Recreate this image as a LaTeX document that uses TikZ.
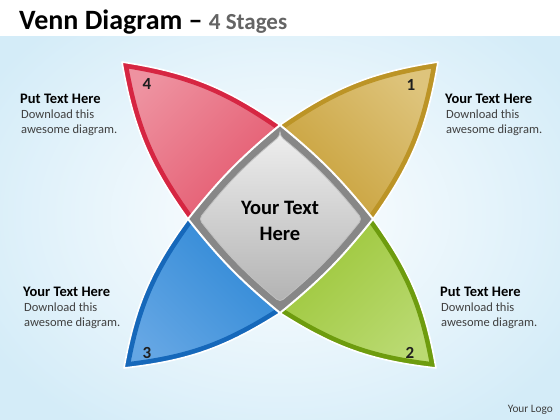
\documentclass[tikz,border=0pt]{standalone}
\usepackage{fontspec}
\setmainfont{Carlito}
\begin{document}
\begin{tikzpicture}[x=1pt,y=1pt,
  petalline/.style={draw=white, line width=1.6pt, line join=round},
  numlabel/.style={font=\fontsize{17}{18}\selectfont\bfseries, text=black!88},
  headtext/.style={anchor=base west, inner sep=0pt, font=\fontsize{14.5}{16}\selectfont\bfseries, text=black},
  bodytext/.style={anchor=base west, inner sep=0pt, font=\fontsize{12.5}{14}\selectfont, text=black!75},
  centertext/.style={anchor=base, inner sep=0pt, font=\fontsize{20.5}{24}\selectfont\bfseries, text=black}]
\definecolor{bgblue}{RGB}{212,236,248}
\definecolor{redD}{RGB}{214,38,66}
\definecolor{redM}{RGB}{228,88,110}
\definecolor{redL}{RGB}{238,146,160}
\definecolor{goldD}{RGB}{188,148,38}
\definecolor{goldM}{RGB}{200,160,56}
\definecolor{goldL}{RGB}{222,196,124}
\definecolor{blueD}{RGB}{22,104,186}
\definecolor{blueM}{RGB}{46,136,214}
\definecolor{blueL}{RGB}{100,166,228}
\definecolor{greenD}{RGB}{110,156,14}
\definecolor{greenM}{RGB}{156,198,56}
\definecolor{greenL}{RGB}{186,218,114}
\definecolor{titlegray}{RGB}{100,100,100}
\useasboundingbox (0,0) rectangle (560,-420);
\fill[white] (0,0) rectangle (560,-420);
\begin{scope}
  \clip (0,-37) rectangle (560,-420);
  \shade[inner color=white, outer color=bgblue] (-60,40) rectangle (620,-470);
\end{scope}
% key points
\coordinate (C) at (280,-219);
\coordinate (DT) at (280,-125);
\coordinate (DR) at (373,-219);
\coordinate (DB) at (280,-313);
\coordinate (DL) at (188,-219);
\coordinate (T4) at (122,-62);
\coordinate (T1) at (438,-62);
\coordinate (T3) at (124,-368);
\coordinate (T2) at (436,-368);
\def\bb{13}
\def\redpath{(T4) to[bend left=\bb] (DT) -- (C) -- (DL) to[bend left=\bb] (T4) -- cycle}
\def\goldpath{(T1) to[bend left=\bb] (DR) -- (C) -- (DT) to[bend left=\bb] (T1) -- cycle}
\def\bluepath{(T3) to[bend left=\bb] (DL) -- (C) -- (DB) to[bend left=\bb] (T3) -- cycle}
\def\greenpath{(T2) to[bend left=\bb] (DB) -- (C) -- (DR) to[bend left=\bb] (T2) -- cycle}
% red petal
\begin{scope}
  \clip \redpath;
  \shade[top color=redL, bottom color=redM, shading angle=45] \redpath;
  \draw[redD, line width=11pt] \redpath;
\end{scope}
\draw[petalline] \redpath;
% gold petal
\begin{scope}
  \clip \goldpath;
  \shade[top color=goldL, bottom color=goldM, shading angle=-45] \goldpath;
  \draw[goldD, line width=11pt] \goldpath;
\end{scope}
\draw[petalline] \goldpath;
% blue petal
\begin{scope}
  \clip \bluepath;
  \shade[top color=blueL, bottom color=blueM, shading angle=135] \bluepath;
  \draw[blueD, line width=11pt] \bluepath;
\end{scope}
\draw[petalline] \bluepath;
% green petal
\begin{scope}
  \clip \greenpath;
  \shade[top color=greenL, bottom color=greenM, shading angle=-135] \greenpath;
  \draw[greenD, line width=11pt] \greenpath;
\end{scope}
\draw[petalline] \greenpath;
% center diamond
\fill[black!47] (DT) to[bend left=6] (DR) to[bend left=6] (DB) to[bend left=6] (DL) to[bend left=6] (DT) -- cycle;
\draw[white, line width=2pt, line join=round] (DT) to[bend left=6] (DR) to[bend left=6] (DB) to[bend left=6] (DL) to[bend left=6] (DT) -- cycle;
\coordinate (IT) at (280,-136);
\coordinate (IR) at (362,-219);
\coordinate (IB) at (280,-302);
\coordinate (IL) at (199,-219);
\shade[top color=black!7, bottom color=black!30, rounded corners=4pt, draw=black!25, line width=0.8pt]
  (IT) to[bend left=6] (IR) to[bend left=6] (IB) to[bend left=6] (IL) to[bend left=6] (IT) -- cycle;
\node[centertext] (c1) at (280,-214) {Your Text};
\node[centertext] (c2) at (280,-240) {Here};
% numbers
\node[numlabel] (n4) at (147,-84) {4};
\node[numlabel] (n1) at (411,-85) {1};
\node[numlabel] (n3) at (147,-353) {3};
\node[numlabel] (n2) at (410,-353) {2};
% title
\node[anchor=base west, inner sep=0pt] (title) at (19,-30)
  {\fontsize{28}{30}\selectfont\bfseries Venn Diagram – {\color{titlegray}\fontsize{23}{24}\selectfont 4 Stages}};
% side texts
\node[headtext] (tl1) at (20,-103) {Put Text Here};
\node[bodytext] (tl2) at (21,-118) {Download this};
\node[bodytext] (tl3) at (21,-133) {awesome diagram.};
\node[headtext] (tr1) at (445,-103) {Your Text Here};
\node[bodytext] (tr2) at (446,-118) {Download this};
\node[bodytext] (tr3) at (446,-133) {awesome diagram.};
\node[headtext] (bl1) at (23,-296) {Your Text Here};
\node[bodytext] (bl2) at (24,-311) {Download this};
\node[bodytext] (bl3) at (24,-326) {awesome diagram.};
\node[headtext] (br1) at (440,-296) {Put Text Here};
\node[bodytext] (br2) at (441,-311) {Download this};
\node[bodytext] (br3) at (441,-326) {awesome diagram.};
\node[anchor=base east, inner sep=0pt, font=\fontsize{11.3}{12}\selectfont, text=black!75] (logo) at (553,-412) {Your Logo};
\end{tikzpicture}
\end{document}
